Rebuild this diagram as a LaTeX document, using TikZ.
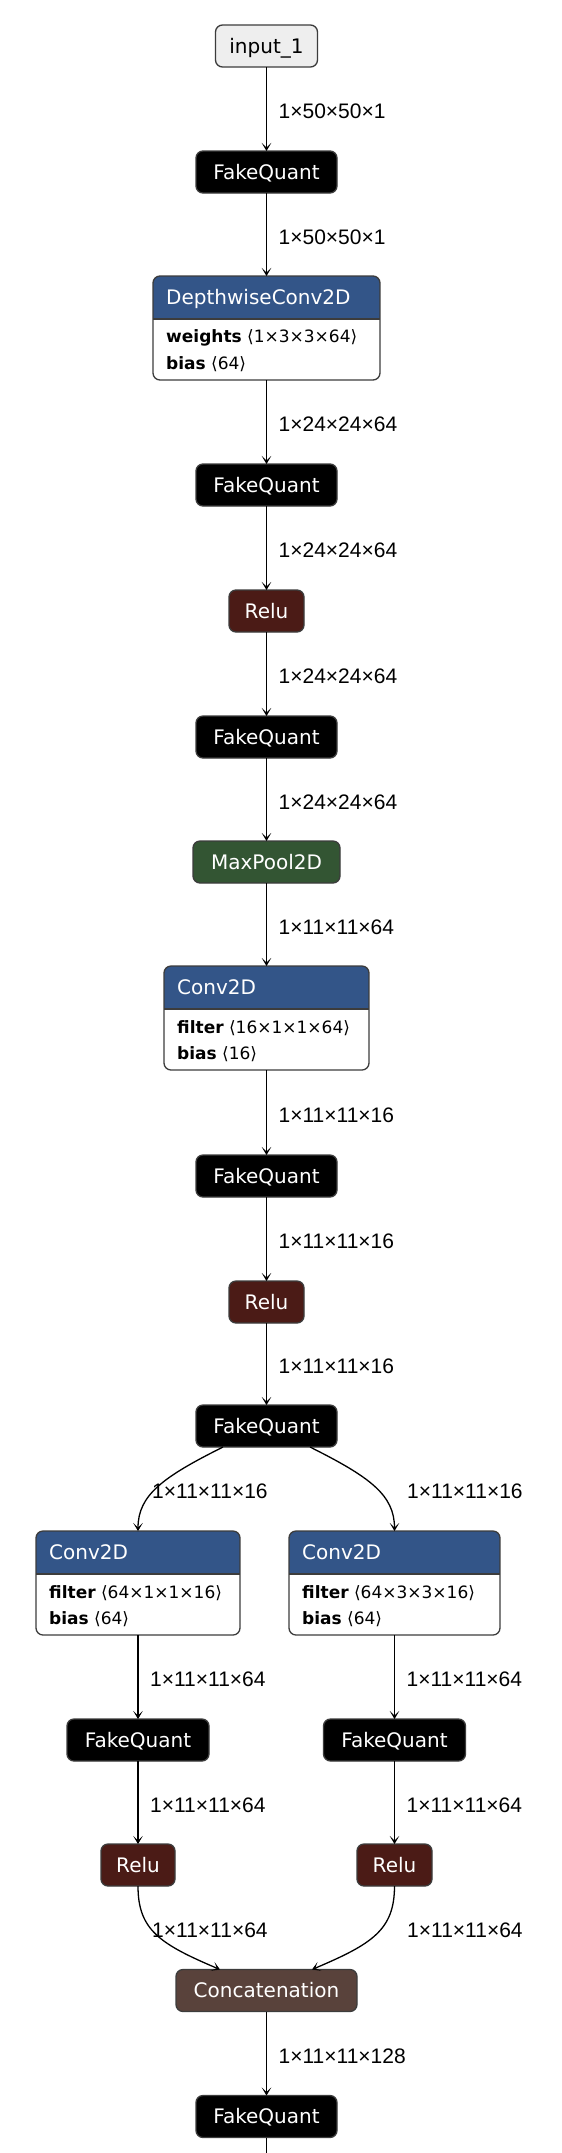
\documentclass[tikz,border=0pt]{standalone}
\usepackage{fontspec}
\setmainfont{DejaVu Sans}
\newfontfamily\lblfont{Liberation Sans}
\usetikzlibrary{arrows.meta}
\definecolor{convblue}{RGB}{51,85,136}
\definecolor{relured}{RGB}{75,27,22}
\definecolor{poolgreen}{RGB}{51,85,51}
\definecolor{catbrown}{RGB}{89,66,59}
\definecolor{inputgray}{RGB}{238,238,238}
\definecolor{bordc}{RGB}{60,60,60}
\newcommand{\opblk}[7]{%
  \node[blk, minimum width=#4] (#1) at (#2,#3) {};
  \begin{scope}
    \clip[rounded corners=7pt] (#1.south west) rectangle (#1.north east);
    \fill[convblue] (#1.north west) rectangle ([yshift=-43pt]#1.north east);
  \end{scope}
  \draw[draw=bordc, line width=1.3pt] ([yshift=-43pt]#1.north west) -- ([yshift=-43pt]#1.north east);
  \draw[draw=bordc, line width=1.3pt, rounded corners=7pt] (#1.south west) rectangle (#1.north east);
  \node[hdr, anchor=west] (#1-h) at ([xshift=13pt,yshift=-21.5pt]#1.north west) {#5};
  \node[attr, anchor=west] (#1-a) at ([xshift=13pt,yshift=-62pt]#1.north west) {#6};
  \node[attr, anchor=west] (#1-b) at ([xshift=13pt,yshift=-88pt]#1.north west) {#7};
}
\begin{document}
\begin{tikzpicture}[x=1pt,y=-1pt,
  op/.style={draw=bordc, line width=1.3pt, rounded corners=7pt, minimum height=42pt,
    inner sep=0pt, outer sep=0pt, text=white, font=\fontsize{20}{24}\selectfont,
    text height=14.5pt, text depth=0pt},
  fq/.style={op, fill=black, minimum width=141pt},
  relu/.style={op, fill=relured, minimum width=75pt},
  blk/.style={fill=white, minimum height=104pt, inner sep=0pt, outer sep=0pt, rounded corners=7pt},
  hdr/.style={inner sep=0pt, text=white, font=\fontsize{20}{24}\selectfont, text height=14.5pt, text depth=0pt},
  attr/.style={inner sep=0pt, text=black, font=\fontsize{17}{20}\selectfont},
  edge/.style={draw=black, line width=1.3pt, -{Stealth[length=8pt,width=9.5pt,inset=4.5pt]}},
  plain/.style={draw=black, line width=1.3pt},
  lbl/.style={anchor=west, xshift=11.5pt, yshift=-2pt, inner sep=0pt, text=black,
    font=\lblfont\fontsize{21}{25}\selectfont, text height=15pt, text depth=0pt},
  albl/.style={anchor=west, inner sep=0pt, text=black,
    font=\lblfont\fontsize{21}{25}\selectfont, text height=15pt, text depth=0pt}
]
\useasboundingbox (0,0) rectangle (562,2153);
\fill[white] (0,0) rectangle (562,2153);

\node[op, fill=inputgray, text=black, minimum width=102pt] (in) at (266.5,46) {input\_1};
\node[fq] (fq1) at (266.5,172) {FakeQuant};
\opblk{dw}{266.5}{328}{227pt}{DepthwiseConv2D}{\textbf{weights} ⟨1×3×3×64⟩}{\textbf{bias} ⟨64⟩}
\node[fq] (fq2) at (266.5,485) {FakeQuant};
\node[relu] (r1) at (266.5,611) {Relu};
\node[fq] (fq3) at (266.5,737) {FakeQuant};
\node[op, fill=poolgreen, minimum width=147pt] (mp) at (266.5,862) {MaxPool2D};
\opblk{c1}{266.5}{1018}{205pt}{Conv2D}{\textbf{filter} ⟨16×1×1×64⟩}{\textbf{bias} ⟨16⟩}
\node[fq] (fq4) at (266.5,1176) {FakeQuant};
\node[relu] (r2) at (266.5,1302) {Relu};
\node[fq] (fq5) at (266.5,1426) {FakeQuant};
\opblk{lc}{138}{1583}{204pt}{Conv2D}{\textbf{filter} ⟨64×1×1×16⟩}{\textbf{bias} ⟨64⟩}
\opblk{rc}{394.5}{1583}{211pt}{Conv2D}{\textbf{filter} ⟨64×3×3×16⟩}{\textbf{bias} ⟨64⟩}
\node[fq, minimum width=142pt] (lfq) at (138,1740) {FakeQuant};
\node[fq, minimum width=142pt] (rfq) at (394.5,1740) {FakeQuant};
\node[relu, minimum width=74pt] (lr) at (138,1865) {Relu};
\node[relu] (rr) at (394.5,1865) {Relu};
\node[op, fill=catbrown, minimum width=181pt] (cat) at (266.5,1990.5) {Concatenation};
\node[fq] (fq6) at (266.5,2116.5) {FakeQuant};
\coordinate (bot) at (266.5,2160);

\draw[edge] (in) -- node[lbl]{1×50×50×1} (fq1);
\draw[edge] (fq1) -- node[lbl]{1×50×50×1} (dw);
\draw[edge] (dw) -- node[lbl]{1×24×24×64} (fq2);
\draw[edge] (fq2) -- node[lbl]{1×24×24×64} (r1);
\draw[edge] (r1) -- node[lbl]{1×24×24×64} (fq3);
\draw[edge] (fq3) -- node[lbl]{1×24×24×64} (mp);
\draw[edge] (mp) -- node[lbl]{1×11×11×64} (c1);
\draw[edge] (c1) -- node[lbl]{1×11×11×16} (fq4);
\draw[edge] (fq4) -- node[lbl]{1×11×11×16} (r2);
\draw[edge] (r2) -- node[lbl]{1×11×11×16} (fq5);

\draw[edge] ([xshift=-43.5pt]fq5.south) .. controls (163,1477) and (138,1495) .. (lc.north);
\draw[edge] ([xshift=43.5pt]fq5.south) .. controls (370,1477) and (394.5,1495) .. (rc.north);
\node[albl] (l5a) at (152,1491) {1×11×11×16};
\node[albl] (l5b) at (407,1491) {1×11×11×16};

\draw[edge] (lc) -- node[lbl]{1×11×11×64} (lfq);
\draw[edge] (rc) -- node[lbl]{1×11×11×64} (rfq);
\draw[edge] (lfq) -- node[lbl]{1×11×11×64} (lr);
\draw[edge] (rfq) -- node[lbl]{1×11×11×64} (rr);

\draw[edge] (lr.south) .. controls (138,1930) and (160,1944) .. ([xshift=-46.5pt]cat.north);
\draw[edge] (rr.south) .. controls (394.5,1930) and (372,1944) .. ([xshift=45.5pt]cat.north);
\node[albl] (l6a) at (152,1930) {1×11×11×64};
\node[albl] (l6b) at (407,1930) {1×11×11×64};

\draw[edge] (cat) -- node[lbl]{1×11×11×128} (fq6);
\draw[plain] (fq6) -- (bot);
\end{tikzpicture}
\end{document}
